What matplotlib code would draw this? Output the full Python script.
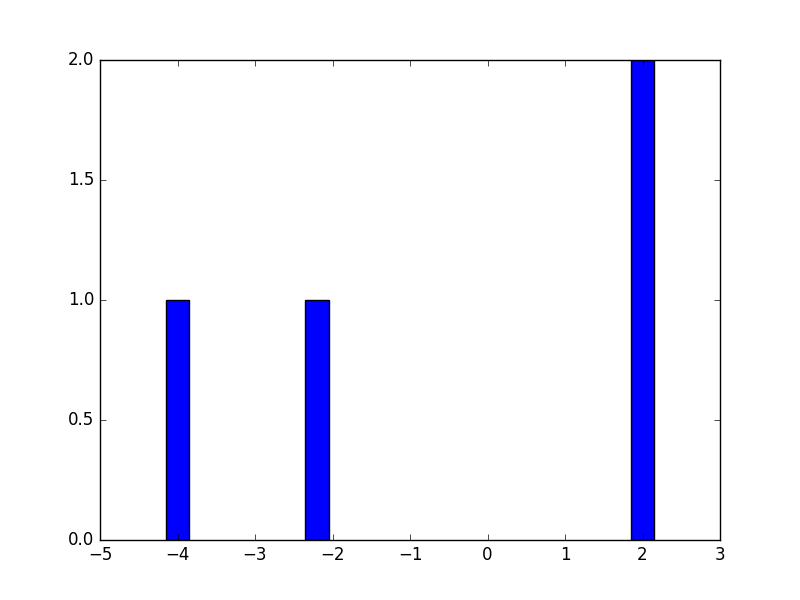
import matplotlib
matplotlib.use("Agg")
import matplotlib.pyplot as plt

plt.style.use("classic")

# bar centres and heights
centers = [-4.0, -2.2, 2.0]
heights = [1, 1, 2]

fig, ax = plt.subplots(figsize=(8, 6), dpi=100)
fig.patch.set_facecolor("white")

ax.bar(centers, heights, width=0.3, align="center", color="blue", edgecolor="black")

ax.set_xlim(-5, 3)
ax.set_ylim(0, 2)
ax.set_xticks(range(-5, 4))
ax.set_yticks([0.0, 0.5, 1.0, 1.5, 2.0])

fig.savefig("out.png", dpi=100, facecolor="white")
